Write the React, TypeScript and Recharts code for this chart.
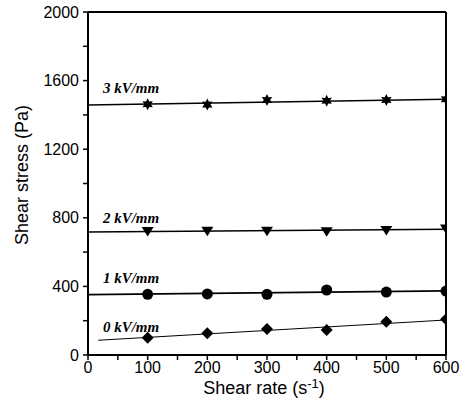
import {
  ComposedChart,
  Line,
  Scatter,
  XAxis,
  YAxis,
  ReferenceLine,
  ReferenceDot,
  Label,
} from 'recharts';

// shear rate (1/s) where each stress was measured
const shearRates = [100, 200, 300, 400, 500, 600];

// measured shear stress (Pa) per field strength
const stress0kV = [101, 127, 152, 146, 194, 208];
const stress1kV = [354, 356, 354, 379, 367, 373];
const stress2kV = [720, 722, 722, 718, 726, 735];
const stress3kV = [1462, 1460, 1487, 1483, 1487, 1491];

// end points of the fitted straight lines [x, y]
const fit0kV = [[17, 86], [600, 204]];
const fit1kV = [[0, 352], [600, 374]];
const fit2kV = [[0, 717], [600, 733]];
const fit3kV = [[0, 1458], [600, 1491]];

// series captions and where they sit (data coords)
const seriesNames = ['0 kV/mm', '1 kV/mm', '2 kV/mm', '3 kV/mm'];
const captionAt = [[25, 163], [25, 449], [25, 799], [25, 1557]];

const xTicks = [0, 50, 100, 150, 200, 250, 300, 350, 400, 450, 500, 550, 600];
const yTicks = [0, 200, 400, 600, 800, 1000, 1200, 1400, 1600, 1800, 2000];

const toPoints = (ys: number[]) => shearRates.map((x, i) => ({ x, y: ys[i] }));
const toLine = (pts: number[][]) => pts.map(([x, y]) => ({ x, y }));

const FONT = '"Liberation Sans", Arial, sans-serif';

const Diamond = ({ cx, cy }: any) => (
  <polygon points={`${cx},${cy - 6} ${cx + 6},${cy} ${cx},${cy + 6} ${cx - 6},${cy}`} fill="#000" />
);

const Dot = ({ cx, cy }: any) => <circle cx={cx} cy={cy} r={5.5} fill="#000" />;

const TriDown = ({ cx, cy }: any) => (
  <polygon points={`${cx - 6},${cy - 4.5} ${cx + 6},${cy - 4.5} ${cx},${cy + 5}`} fill="#000" />
);

const Star = ({ cx, cy }: any) => {
  const pts: string[] = [];
  for (let i = 0; i < 12; i++) {
    const r = i % 2 === 0 ? 6 : 3.2;
    const a = (Math.PI / 6) * i - Math.PI / 2;
    pts.push(`${cx + r * Math.cos(a)},${cy + r * Math.sin(a)}`);
  }
  return <polygon points={pts.join(' ')} fill="#000" />;
};

const Caption = (text: string) => ({ cx, cy }: any) => (
  <text
    x={cx}
    y={cy}
    dominantBaseline="central"
    fontFamily='"Liberation Serif", "Times New Roman", serif'
    fontStyle="italic"
    fontWeight="bold"
    fontSize={15}
    style={{ fill: '#000' }}
  >
    {text}
  </text>
);

export default function App() {
  return (
    <div style={{ position: 'absolute', left: 0, top: 0, background: '#fff' }}>
      <ComposedChart width={463} height={414} margin={{ top: 12, right: 17, bottom: 0, left: 0 }}>
        <XAxis
          dataKey="x"
          type="number"
          domain={[0, 600]}
          ticks={xTicks}
          tickFormatter={(v: number) => (v % 100 === 0 ? String(v) : '')}
          height={59}
          stroke="#000"
          strokeWidth={2}
          tickSize={5}
          tickLine={{ stroke: '#000', strokeWidth: 1.5 }}
          tick={{ fill: '#000', fontSize: 16, fontFamily: FONT }}
          allowDataOverflow
        >
          <Label
            content={({ viewBox }: any) => (
              <text
                x={viewBox.x + viewBox.width / 2 - 3}
                y={viewBox.y + 39}
                textAnchor="middle"
                fontFamily={FONT}
                fontSize={18}
                style={{ fill: '#000' }}
              >
                Shear rate (s
                <tspan dy={-6} fontSize={13}>-1</tspan>
                <tspan dy={6}>)</tspan>
              </text>
            )}
          />
        </XAxis>
        <YAxis
          dataKey="y"
          type="number"
          domain={[0, 2000]}
          ticks={yTicks}
          tickFormatter={(v: number) => (v % 400 === 0 ? String(v) : '')}
          width={88}
          stroke="#000"
          strokeWidth={2}
          tickSize={5}
          tickLine={{ stroke: '#000', strokeWidth: 1.5 }}
          tick={{ fill: '#000', fontSize: 16, fontFamily: FONT, dx: -2 }}
          allowDataOverflow
        >
          <Label
            content={() => (
              <text
                x={22}
                y={175}
                transform="rotate(-90 22 175)"
                textAnchor="middle"
                dominantBaseline="central"
                fontFamily={FONT}
                fontSize={18}
                style={{ fill: '#000' }}
              >
                Shear stress (Pa)
              </text>
            )}
          />
        </YAxis>

        <ReferenceLine y={2000} stroke="#000" strokeWidth={2} />
        <ReferenceLine x={600} stroke="#000" strokeWidth={2} />

        <Line data={toLine(fit0kV)} dataKey="y" stroke="#000" strokeWidth={1} dot={false} isAnimationActive={false} />
        <Line data={toLine(fit1kV)} dataKey="y" stroke="#000" strokeWidth={1.6} dot={false} isAnimationActive={false} />
        <Line data={toLine(fit2kV)} dataKey="y" stroke="#000" strokeWidth={1.6} dot={false} isAnimationActive={false} />
        <Line data={toLine(fit3kV)} dataKey="y" stroke="#000" strokeWidth={1.6} dot={false} isAnimationActive={false} />

        <Scatter data={toPoints(stress0kV)} dataKey="y" shape={Diamond} isAnimationActive={false} />
        <Scatter data={toPoints(stress1kV)} dataKey="y" shape={Dot} isAnimationActive={false} />
        <Scatter data={toPoints(stress2kV)} dataKey="y" shape={TriDown} isAnimationActive={false} />
        <Scatter data={toPoints(stress3kV)} dataKey="y" shape={Star} isAnimationActive={false} />

        {seriesNames.map((name, i) => (
          <ReferenceDot
            key={name}
            x={captionAt[i][0]}
            y={captionAt[i][1]}
            r={0}
            shape={Caption(name)}
          />
        ))}
      </ComposedChart>
    </div>
  );
}
